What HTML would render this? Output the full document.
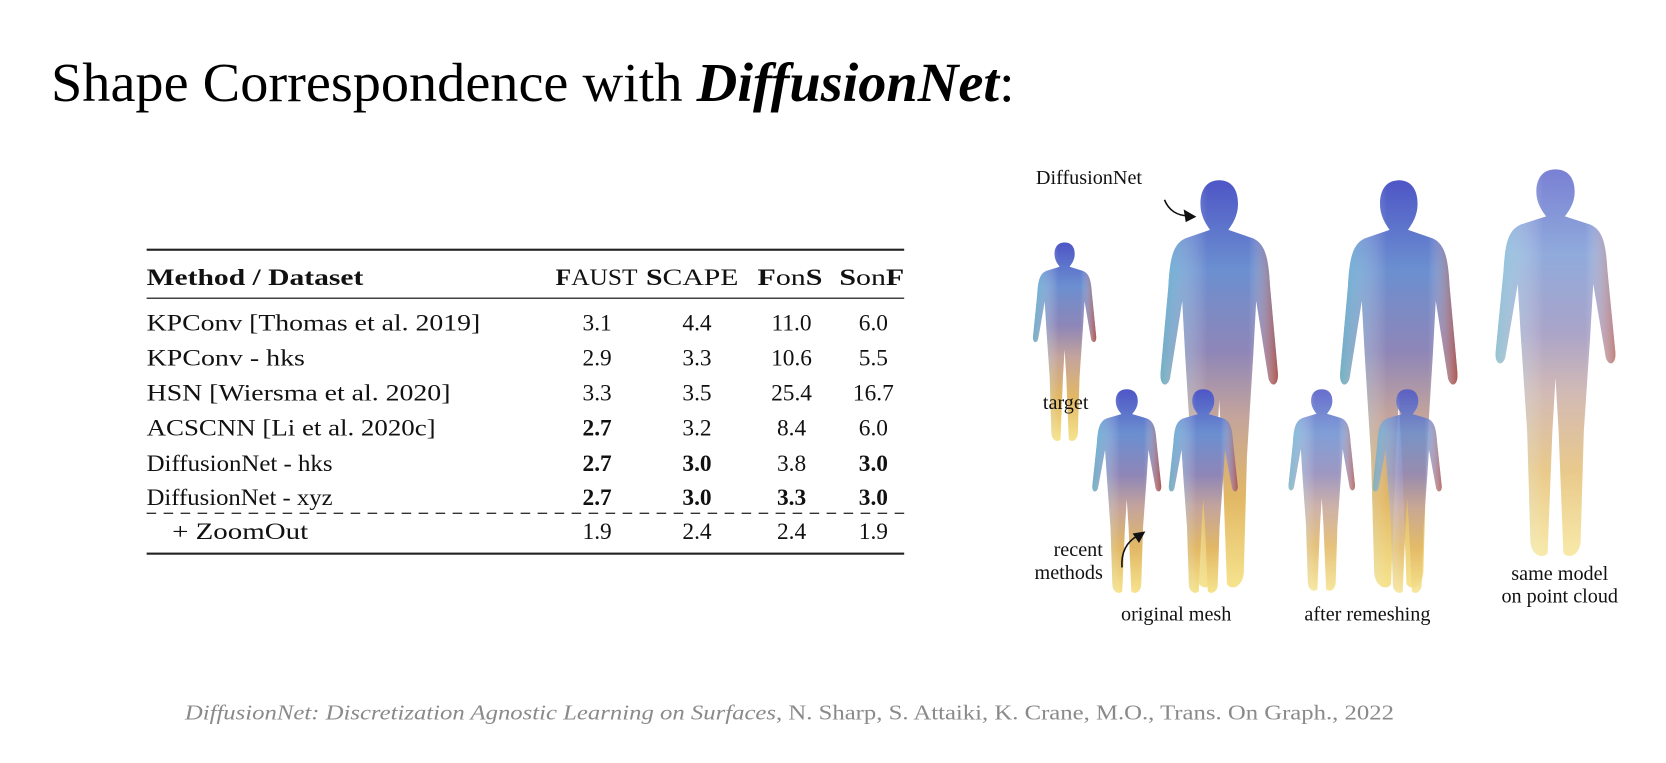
<!DOCTYPE html>
<html><head><meta charset="utf-8"><style>html,body{margin:0;padding:0;background:#fff}svg{display:block}</style></head>
<body>
<svg width="1666" height="763" viewBox="0 0 1568 718" preserveAspectRatio="none" xmlns="http://www.w3.org/2000/svg" font-family="'Liberation Serif', serif">
<defs>
<linearGradient id="g" x1="0" y1="0" x2="0" y2="1">
<stop offset="0" stop-color="#4e56c6"/><stop offset="0.22" stop-color="#6b8fd0"/><stop offset="0.42" stop-color="#8e86b8"/><stop offset="0.58" stop-color="#c4a49c"/><stop offset="0.78" stop-color="#e2b865"/><stop offset="1" stop-color="#f6e38e"/>
</linearGradient>
<linearGradient id="h" x1="0" y1="0" x2="1" y2="0">
<stop offset="0" stop-color="#5ec0d0" stop-opacity="0.7"/><stop offset="0.4" stop-color="#fff" stop-opacity="0"/><stop offset="0.75" stop-color="#fff" stop-opacity="0"/><stop offset="1" stop-color="#b0402a" stop-opacity="0.7"/>
</linearGradient>
<symbol id="man" viewBox="0 0 100 300" preserveAspectRatio="none">
<path d="M50 5 C60 5 63 15 62 25 C61 33 57 38 56 40 L72 46 C80 50 82 60 83 80 L88 140 C89 150 84 152 82 145 L74 90 L72 130 L68 200 L66 280 C66 292 58 295 55 290 L52 200 L50 160 L48 200 L45 290 C42 295 34 292 34 280 L32 200 L28 130 L26 90 L18 145 C16 152 11 150 12 140 L17 80 C18 60 20 50 28 46 L44 40 C43 38 39 33 38 25 C37 15 40 5 50 5 Z" fill="url(#g)"/>
<path d="M50 5 C60 5 63 15 62 25 C61 33 57 38 56 40 L72 46 C80 50 82 60 83 80 L88 140 C89 150 84 152 82 145 L74 90 L72 130 L68 200 L66 280 C66 292 58 295 55 290 L52 200 L50 160 L48 200 L45 290 C42 295 34 292 34 280 L32 200 L28 130 L26 90 L18 145 C16 152 11 150 12 140 L17 80 C18 60 20 50 28 46 L44 40 C43 38 39 33 38 25 C37 15 40 5 50 5 Z" fill="url(#h)"/>
</symbol>
</defs>

<text x="48" y="95" font-size="52" textLength="907" lengthAdjust="spacingAndGlyphs">Shape Correspondence with <tspan font-weight="bold" font-style="italic">DiffusionNet</tspan>:</text>

<g font-size="22" fill="#111">
<rect x="138" y="234" width="713" height="2" fill="#222"/>
<text x="138" y="268" font-weight="bold" textLength="204" lengthAdjust="spacingAndGlyphs">Method / Dataset</text>
<text x="523" y="268" textLength="77" lengthAdjust="spacingAndGlyphs"><tspan font-weight="bold">F</tspan>AUST</text>
<text x="608" y="268" textLength="87" lengthAdjust="spacingAndGlyphs"><tspan font-weight="bold">S</tspan>CAPE</text>
<text x="713" y="268" textLength="61" lengthAdjust="spacingAndGlyphs"><tspan font-weight="bold">F</tspan>on<tspan font-weight="bold">S</tspan></text>
<text x="790" y="268" textLength="61" lengthAdjust="spacingAndGlyphs"><tspan font-weight="bold">S</tspan>on<tspan font-weight="bold">F</tspan></text>
<rect x="138" y="280" width="713" height="1.3" fill="#333"/>
<text x="138" y="311" textLength="314" lengthAdjust="spacingAndGlyphs">KPConv [Thomas et al. 2019]</text>
<text x="138" y="344" textLength="149" lengthAdjust="spacingAndGlyphs">KPConv - hks</text>
<text x="138" y="377" textLength="286" lengthAdjust="spacingAndGlyphs">HSN [Wiersma et al. 2020]</text>
<text x="138" y="410" textLength="272" lengthAdjust="spacingAndGlyphs">ACSCNN [Li et al. 2020c]</text>
<text x="138" y="443" textLength="175" lengthAdjust="spacingAndGlyphs">DiffusionNet - hks</text>
<text x="138" y="475" textLength="175" lengthAdjust="spacingAndGlyphs">DiffusionNet - xyz</text>
<text x="162" y="507" textLength="128" lengthAdjust="spacingAndGlyphs">+ ZoomOut</text>
<g text-anchor="middle">
<text x="562" y="311">3.1</text><text x="656" y="311">4.4</text><text x="745" y="311">11.0</text><text x="822" y="311">6.0</text>
<text x="562" y="344">2.9</text><text x="656" y="344">3.3</text><text x="745" y="344">10.6</text><text x="822" y="344">5.5</text>
<text x="562" y="377">3.3</text><text x="656" y="377">3.5</text><text x="745" y="377">25.4</text><text x="822" y="377">16.7</text>
<text x="562" y="410" font-weight="bold">2.7</text><text x="656" y="410">3.2</text><text x="745" y="410">8.4</text><text x="822" y="410">6.0</text>
<text x="562" y="443" font-weight="bold">2.7</text><text x="656" y="443" font-weight="bold">3.0</text><text x="745" y="443">3.8</text><text x="822" y="443" font-weight="bold">3.0</text>
<text x="562" y="475" font-weight="bold">2.7</text><text x="656" y="475" font-weight="bold">3.0</text><text x="745" y="475" font-weight="bold">3.3</text><text x="822" y="475" font-weight="bold">3.0</text>
<text x="562" y="507">1.9</text><text x="656" y="507">2.4</text><text x="745" y="507">2.4</text><text x="822" y="507">1.9</text>
</g>
<line x1="138" y1="483" x2="851" y2="483" stroke="#333" stroke-width="1.3" stroke-dasharray="9,7"/>
<rect x="138" y="520" width="713" height="2" fill="#222"/>
</g>

<g>
<use href="#man" x="963" y="225" width="78" height="195"/>
<use href="#man" x="1075" y="163" width="145" height="400"/>
<use href="#man" x="1244" y="163" width="145" height="400"/>
<use href="#man" x="1390" y="153" width="148" height="380" opacity="0.75"/>
<use href="#man" x="1018" y="363" width="85" height="200"/>
<use href="#man" x="1090" y="363" width="85" height="200"/>
<use href="#man" x="1203" y="363" width="82" height="198" opacity="0.85"/>
<use href="#man" x="1282" y="363" width="85" height="200" opacity="0.85"/>
</g>
<g font-size="19" fill="#111">
<text x="975" y="173">DiffusionNet</text>
<path d="M1096 188 C1100 198 1108 203 1118 203" fill="none" stroke="#111" stroke-width="1.5"/>
<path d="M1126 204 L1114 197 L1116 209 Z" fill="#111"/>
<text x="1003" y="385" text-anchor="middle">target</text>
<text x="1038" y="523" text-anchor="end">recent</text>
<text x="1038" y="545" text-anchor="end">methods</text>
<path d="M1056 534 C1055 520 1060 510 1071 504" fill="none" stroke="#111" stroke-width="1.5"/>
<path d="M1078 500 L1066 502 L1072 511 Z" fill="#111"/>
<text x="1107" y="584" text-anchor="middle">original mesh</text>
<text x="1287" y="584" text-anchor="middle">after remeshing</text>
<text x="1468" y="546" text-anchor="middle">same model</text>
<text x="1468" y="567" text-anchor="middle">on point cloud</text>
</g>

<text x="743" y="677" font-size="20" fill="#8a8a8a" text-anchor="middle" textLength="1138" lengthAdjust="spacingAndGlyphs"><tspan font-style="italic">DiffusionNet: Discretization Agnostic Learning on Surfaces</tspan>, N. Sharp, S. Attaiki, K. Crane, M.O., Trans. On Graph., 2022</text>
</svg>
</body></html>
